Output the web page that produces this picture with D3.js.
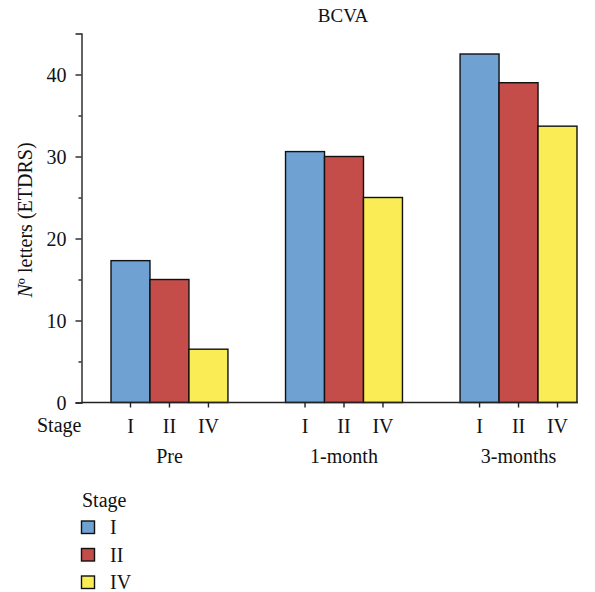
<!DOCTYPE html>
<html><head><meta charset="utf-8">
<script src="https://cdn.jsdelivr.net/npm/d3@7"></script>
<style>body{margin:0;background:#fff}svg text{font-family:"Liberation Serif","Times New Roman",serif !important;fill:#111}</style>
</head><body>
<svg id="c" width="595" height="592"></svg>
<script>
const groups = ["Pre", "1-month", "3-months"];
const stages = ["I", "II", "IV"];
const valuesI = [17.3, 30.6, 42.5];
const valuesII = [15.0, 30.0, 39.0];
const valuesIV = [6.5, 25.0, 33.7];
const colors = ["#6fa1d3", "#c44c49", "#f9ec55"];
const yTicks = [0, 10, 20, 30, 40];
const yMinor = [5, 15, 25, 35];

const series = [valuesI, valuesII, valuesIV];
const data = groups.map((g, gi) => ({g, vals: stages.map((s, si) => ({s, si, v: series[si][gi]}))}));
const FS = 20;

const svg = d3.select("#c");
const x0 = d3.scaleBand().domain(groups).range([111, 577]).paddingInner(0.33).paddingOuter(0);
const x1 = d3.scaleBand().domain(stages).range([0, x0.bandwidth()]).padding(0);
const y = d3.scaleLinear().domain([0, 45]).range([402.5, 33.5]);
const axisX = 81.5;

// bars
const gg = svg.selectAll("g.grp").data(data).join("g").attr("transform", d => `translate(${x0(d.g)},0)`);
gg.selectAll("rect").data(d => d.vals).join("rect")
  .attr("x", d => x1(d.s)).attr("width", x1.bandwidth())
  .attr("y", d => y(d.v)).attr("height", d => y(0) - y(d.v))
  .attr("fill", d => colors[d.si]).attr("stroke", "#111").attr("stroke-width", 1.4);

// y axis
const ya = svg.append("g").attr("transform", `translate(${axisX},0)`)
  .call(d3.axisLeft(y).tickValues(yTicks).tickSize(6).tickPadding(9).tickFormat(d3.format("d")));
ya.select(".domain").attr("stroke", "#222").attr("stroke-width", 1.4);
ya.selectAll(".tick line").attr("stroke", "#222").attr("stroke-width", 1.4);
ya.selectAll(".tick text").attr("font-size", FS).attr("dy", "0.33em");
svg.append("g").attr("transform", `translate(${axisX},0)`)
  .call(d3.axisLeft(y).tickValues(yMinor).tickSize(3).tickFormat(""))
  .call(g => g.select(".domain").remove())
  .selectAll(".tick line").attr("stroke", "#222").attr("stroke-width", 1.4);

// x axis baseline
svg.append("line").attr("x1", axisX).attr("x2", x0.range()[1] + 1).attr("y1", y(0)).attr("y2", y(0))
  .attr("stroke", "#222").attr("stroke-width", 1.4);

// x ticks and labels
groups.forEach(g => {
  const ax = svg.append("g").attr("transform", `translate(${x0(g)},${y(0)})`)
    .call(d3.axisBottom(x1).tickSize(5).tickPadding(0).tickSizeOuter(0));
  ax.select(".domain").remove();
  ax.selectAll(".tick line").attr("stroke", "#222").attr("stroke-width", 1.4);
  ax.selectAll(".tick text").attr("font-size", FS).attr("dy", null).attr("y", 30);
  svg.append("text").attr("x", x0(g) + x0.bandwidth() / 2).attr("y", 463)
    .attr("text-anchor", "middle").attr("font-size", FS).text(g);
});
svg.append("text").attr("x", 37).attr("y", 432).attr("font-size", FS).text("Stage");

// title
svg.append("text").attr("x", 343).attr("y", 22).attr("text-anchor", "middle").attr("font-size", 19).text("BCVA");

// y label
const yl = svg.append("text").attr("transform", "translate(32,220) rotate(-90)").attr("text-anchor", "middle").attr("font-size", FS);
yl.append("tspan").attr("font-style", "italic").text("N");
yl.append("tspan").text("º letters (ETDRS)");

// legend
svg.append("text").attr("x", 82).attr("y", 507).attr("font-size", FS).text("Stage");
stages.forEach((s, i) => {
  svg.append("rect").attr("x", 81.5).attr("y", 521 + i * 27.5).attr("width", 13).attr("height", 12.5)
    .attr("fill", colors[i]).attr("stroke", "#111").attr("stroke-width", 1.4);
  svg.append("text").attr("x", 110).attr("y", 534 + i * 27.5).attr("font-size", FS).text(s);
});
</script>
</body></html>
